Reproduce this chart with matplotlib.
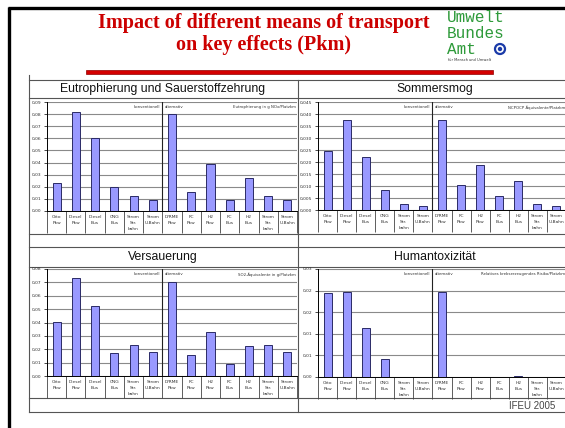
import numpy as np
import matplotlib
matplotlib.use("Agg")
import matplotlib.pyplot as plt
from matplotlib.patches import Rectangle, Circle

# --- data -------------------------------------------------------------
categories = ["Otto\nPkw", "Diesel\nPkw", "Diesel\nBus", "CNG\nBus", "Strom\nStr.\nbahn", "Strom\nU-Bahn",
              "D/RME\nPkw", "FC\nPkw", "H2\nPkw", "FC\nBus", "H2\nBus", "Strom\nStr.\nbahn", "Strom\nU-Bahn"]

eutro = [0.023, 0.0815, 0.060, 0.020, 0.012, 0.009, 0.080, 0.0155, 0.039, 0.009, 0.027, 0.012, 0.009]
smog = [0.0246, 0.0375, 0.022, 0.0083, 0.0025, 0.0018, 0.0375, 0.0104, 0.0188, 0.0058, 0.012, 0.0025, 0.0018]
versauerung = [0.0405, 0.0735, 0.052, 0.0173, 0.023, 0.018, 0.070, 0.0158, 0.033, 0.009, 0.0225, 0.023, 0.018]
humantox = [0.0194, 0.0197, 0.0113, 0.0042, 0.0, 0.0, 0.0197, 0.0, 0.0, 0.0, 0.0002, 0.0, 0.0]

eutro_ticks = [0.00, 0.01, 0.02, 0.03, 0.04, 0.05, 0.06, 0.07, 0.08, 0.09]
eutro_labels = ["0,00", "0,01", "0,02", "0,03", "0,04", "0,05", "0,06", "0,07", "0,08", "0,09"]
smog_ticks = [0.0, 0.005, 0.010, 0.015, 0.020, 0.025, 0.030, 0.035, 0.040, 0.045]
smog_labels = ["0,000", "0,005", "0,010", "0,015", "0,020", "0,025", "0,030", "0,035", "0,040", "0,045"]
vers_ticks = [0.00, 0.01, 0.02, 0.03, 0.04, 0.05, 0.06, 0.07, 0.08]
vers_labels = ["0,00", "0,01", "0,02", "0,03", "0,04", "0,05", "0,06", "0,07", "0,08"]
hum_ticks = [0.0, 0.005, 0.010, 0.015, 0.020, 0.025]
hum_labels = ["0,00", "0,01", "0,01", "0,02", "0,02", "0,03"]

W, H = 565, 428
fig = plt.figure(figsize=(W / 100, H / 100), dpi=100)
fig.patch.set_facecolor("white")


def box(x0, y0, x1, y1):
    return [x0 / W, 1 - y1 / H, (x1 - x0) / W, (y1 - y0) / H]


# background / slide layer in pixel coords
bg = fig.add_axes([0, 0, 1, 1], zorder=0)
bg.set_xlim(0, W)
bg.set_ylim(H, 0)
bg.axis("off")

# slide frame
bg.plot([9, 9], [7, H], color="black", lw=2.4, solid_capstyle="butt")
bg.plot([8, W], [8, 8], color="black", lw=2.4, solid_capstyle="butt")

# title
bg.text(264, 23, "Impact of different means of transport", ha="center", va="center",
        family="Liberation Serif", weight="bold", color="#cc0000", fontsize=14.5)
bg.text(264, 45, "on key effects (Pkm)", ha="center", va="center",
        family="Liberation Serif", weight="bold", color="#cc0000", fontsize=14.5)

# logo
for txt, yy in [("Umwelt", 17), ("Bundes", 33), ("Amt", 49)]:
    bg.text(447, yy, txt, ha="left", va="center", family="Liberation Mono",
            color="#2e9a3a", fontsize=11.5)
bg.add_patch(Circle((500, 49), 5, facecolor="white", edgecolor="#1a3aa8", lw=1.6))
bg.add_patch(Circle((500, 49), 2.2, facecolor="#1a3aa8", edgecolor="none"))
bg.text(448, 60, "für Mensch und Umwelt", ha="left", va="center", fontsize=2.6, color="#333")

# red bar
bg.add_patch(Rectangle((86, 70), 407, 4, facecolor="#d40000", edgecolor="#900000", lw=0.5))

# table lines
lc = "#555555"
bg.plot([29, 29], [75, 412], color=lc, lw=0.8)
bg.plot([298, 298], [80, 412], color=lc, lw=0.8)
for yy in [80, 98, 234, 247, 267, 398, 412]:
    bg.plot([29, W], [yy, yy], color=lc, lw=0.8)

bg.text(555, 406, "IFEU 2005", ha="right", va="center", family="Liberation Sans",
        fontsize=7, color="#444")

panels = [
    ("Eutrophierung und Sauerstoffzehrung", eutro, eutro_ticks, eutro_labels,
     "Eutrophierung in g NOx/Platzkm", (47, 102, 297, 211), 163, 89),
    ("Sommersmog", smog, smog_ticks, smog_labels,
     "NCPOCP Äquivalente/Platzkm", (318, 102, 566, 210), 435, 89),
    ("Versauerung", versauerung, vers_ticks, vers_labels,
     "SO2-Äquivalente in g/Platzkm", (47, 269, 297, 376), 163, 257),
    ("Humantoxizität", humantox, hum_ticks, hum_labels,
     "Relatives krebserzeugendes Risiko/Platzkm", (318, 269, 566, 377), 435, 257),
]

x = np.arange(len(categories))
for title, vals, ticks, tlabels, unit, (x0, y0, x1, y1), tx, ty in panels:
    bg.text(tx, ty, title, ha="center", va="center", family="Liberation Sans",
            fontsize=8.8, color="#111")

    ax = fig.add_axes(box(x0, y0, x1, y1), zorder=2)
    ax.set_facecolor("none")
    ax.bar(x, vals, width=0.42, color="#9999ff", edgecolor="#2a2a66", linewidth=0.7, zorder=3)
    ax.set_xlim(-0.5, len(categories) - 0.5)
    ax.set_ylim(ticks[0], ticks[-1])
    ax.set_yticks(ticks)
    ax.set_yticklabels(tlabels, fontsize=3.2, color="#333")
    ax.tick_params(axis="y", length=2, width=0.5, pad=2)
    ax.yaxis.grid(True, color="#8a8a8a", lw=0.8)
    ax.set_axisbelow(True)

    ax.set_xticks(x)
    ax.set_xticklabels(categories, fontsize=3.2, color="#333", linespacing=1.7)
    ax.tick_params(axis="x", which="major", length=0, pad=3)
    ax.set_xticks(np.arange(-0.5, len(categories)), minor=True)
    ax.tick_params(axis="x", which="minor", length=15.5, width=0.6, color="#444", direction="out")

    for s in ["top", "right"]:
        ax.spines[s].set_visible(False)
    ax.spines["left"].set_linewidth(0.7)
    ax.spines["bottom"].set_linewidth(0.7)

    ax.axvline(5.5, color="#222", lw=0.8, zorder=4)
    ty_lab = ticks[-1] * 0.95
    ax.text(5.4, ty_lab, "konventionell", ha="right", va="center", fontsize=2.8, color="#333")
    ax.text(5.6, ty_lab, "alternativ", ha="left", va="center", fontsize=2.8, color="#333")
    ax.text(12.45, ty_lab, unit, ha="right", va="center", fontsize=2.8, color="#333")

fig.savefig("out.png", dpi=100)
